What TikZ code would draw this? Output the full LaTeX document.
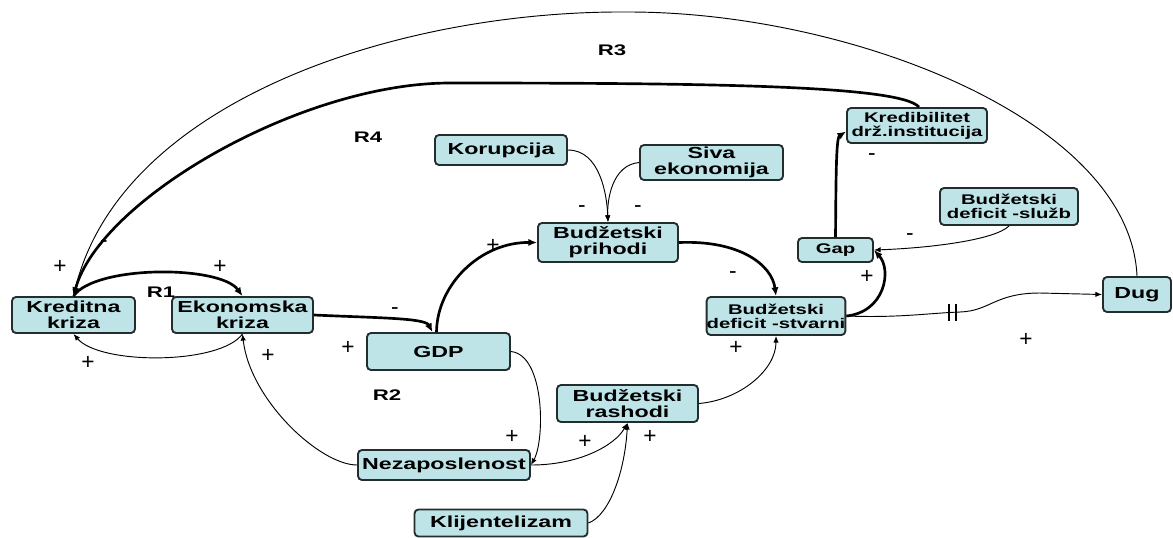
\documentclass[tikz,border=0pt]{standalone}
\usepackage{fontspec}
\setmainfont{Liberation Sans}[FakeStretch=1.45]
\newfontfamily\signfont{Liberation Sans}
\usetikzlibrary{arrows.meta,calc}
\definecolor{boxfill}{RGB}{190,228,232}
\definecolor{boxline}{RGB}{35,45,45}
\begin{document}
\begin{tikzpicture}[x=0.75pt,y=-0.75pt,
  box/.style={draw=boxline, line width=1.4pt, rounded corners=3pt, fill=boxfill, inner sep=0pt, align=center, font=\bfseries\fontsize{12}{12}\selectfont},
  sbox/.style={box, font=\bfseries\fontsize{10.5}{10.5}\selectfont},
  lnk/.style={-{Latex[length=5pt,width=4pt]}, line width=0.7pt},
  blnk/.style={-{Latex[length=6.5pt,width=5.5pt]}, line width=2pt},
  sgn/.style={font=\signfont\fontsize{17}{17}\selectfont, inner sep=0pt},
  loopl/.style={font=\bfseries\fontsize{11.5}{11.5}\selectfont, inner sep=0pt}]
\useasboundingbox (0,0) rectangle (1173,537);

% nodes
\node[box, minimum width=92.25pt, minimum height=27pt] (kk) at (73.5,315) {Kreditna\\kriza};
\node[box, minimum width=105.75pt, minimum height=27pt] (ek) at (242.5,315) {Ekonomska\\kriza};
\node[box, minimum width=107.25pt, minimum height=27.75pt] (gdp) at (438.5,351.5) {GDP};
\node[box, minimum width=129pt, minimum height=22.5pt] (nez) at (444,465) {Nezaposlenost};
\node[box, minimum width=129.75pt, minimum height=20.25pt] (klij) at (501,523) {Klijentelizam};
\node[box, minimum width=105.75pt, minimum height=27.75pt] (rash) at (627.5,403.5) {Budžetski\\rashodi};
\node[box, minimum width=105pt, minimum height=29.25pt] (pr) at (608,242.5) {Budžetski\\prihodi};
\node[box, minimum width=99pt, minimum height=22.5pt] (kor) at (501,150) {Korupcija};
\node[box, minimum width=107.25pt, minimum height=26.25pt] (siva) at (711.5,162.5) {Siva\\ekonomija};
\node[sbox, minimum width=103.5pt, minimum height=28.5pt] (def) at (776,316) {Budžetski\\deficit -stvarni};
\node[sbox, minimum width=56.25pt, minimum height=18pt] (gap) at (835.5,250) {Gap};
\node[sbox, minimum width=105pt, minimum height=26.25pt] (kred) at (917,125.5) {Kredibilitet\\drž.institucija};
\node[sbox, minimum width=103.5pt, minimum height=27.75pt] (sl) at (1009,206.5) {Budžetski\\deficit -služb};
\node[box, minimum width=51pt, minimum height=26.25pt] (dug) at (1137,294.5) {Dug};

% connectors
\draw[blnk] (kk.north) .. controls (95,265) and (220,265) .. (ek.north);
\draw[lnk] (ek.south) .. controls (220,365) and (100,365) .. (kk.south);
\draw[blnk] (ek.east) .. controls (380,318) and (425,318) .. ($(gdp.north)+(-6,0)$);
\draw[blnk] ($(gdp.north)+(-2,0)$) .. controls (437,285) and (480,242) .. (pr.west);
\draw[lnk] (kor.east) .. controls (600,150) and (607,195) .. (pr.north);
\draw[lnk] (siva.west) .. controls (612,165) and (607,200) .. (pr.north);
\draw[blnk] (pr.east) .. controls (740,240) and (772,265) .. (def.north);
\draw[lnk] (gdp.east) .. controls (545,355) and (545,440) .. (nez.east);
\draw[lnk] (nez.west) .. controls (320,465) and (250,400) .. (ek.south);
\draw[lnk] (nez.east) .. controls (580,465) and (615,445) .. (rash.south);
\draw[lnk] (klij.east) .. controls (610,515) and (625,470) .. (rash.south);
\draw[lnk] (rash.east) .. controls (740,400) and (776,370) .. (def.south);
\draw[blnk] (def.east) .. controls (885,312) and (892,270) .. (gap.east);
\draw[lnk] (sl.south) .. controls (995,240) and (930,248) .. (gap.east);
\draw[blnk] (gap.north) .. controls (836,180) and (836,138) .. ($(kred.west)+(0,6)$);
\draw[blnk] ($(kred.north)+(2,0)$) .. controls (900,85) and (700,83) .. (450,83) .. controls (300,83) and (100,200) .. (kk.north);
\draw[lnk] (dug.north) .. controls (1130,120) and (850,12) .. (629,12) .. controls (400,10) and (120,100) .. (kk.north);
\draw[lnk] (def.east) .. controls (900,318) and (930,313) .. (960,312) .. controls (990,311) and (995,293) .. (1040,293) -- (dug.west);
\draw[line width=0.9pt] (949,304) -- (949,321) (956,304) -- (956,321);

% loop labels
\node[loopl] (r1) at (161,292) {R1};
\node[loopl] (r2) at (387,395) {R2};
\node[loopl] (r3) at (612,50) {R3};
\node[loopl] (r4) at (368,137) {R4};

% signs
\node[sgn] (s1) at (60,267) {+};
\node[sgn] (s2) at (104,244) {-};
\node[sgn] (s3) at (220,267) {+};
\node[sgn] (s4) at (88,363) {+};
\node[sgn] (s5) at (268,356) {+};
\node[sgn] (s6) at (395,311) {-};
\node[sgn] (s7) at (348,348) {+};
\node[sgn] (s8) at (493,246) {+};
\node[sgn] (s9) at (582,209) {-};
\node[sgn] (s10) at (638,209) {-};
\node[sgn] (s11) at (733,275) {-};
\node[sgn] (s12) at (736,348) {+};
\node[sgn] (s13) at (512,437) {+};
\node[sgn] (s14) at (585,442) {+};
\node[sgn] (s15) at (650,437) {+};
\node[sgn] (s16) at (872,157) {-};
\node[sgn] (s17) at (910,237) {-};
\node[sgn] (s18) at (867,277) {+};
\node[sgn] (s19) at (1026,340) {+};
\end{tikzpicture}
\end{document}
